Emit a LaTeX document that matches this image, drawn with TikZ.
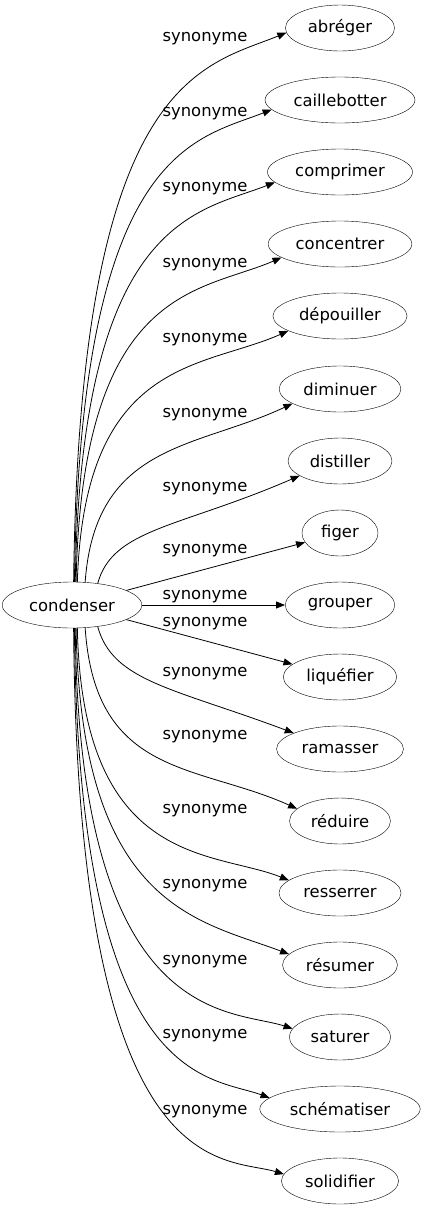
\documentclass[tikz,border=0pt]{standalone}
\usepackage{fontspec}
\setmainfont{DejaVu Sans}
\usetikzlibrary{shapes.geometric, arrows.meta}

\begin{document}
\begin{tikzpicture}[x=1pt, y=-1pt, >={Triangle[length=9pt,width=7pt]},
    word/.style={draw, ellipse, inner xsep=6.5pt, inner ysep=3pt,
      minimum height=46pt, minimum width=76pt, font=\fontsize{16.4}{19}\selectfont},
    rel/.style={anchor=base, font=\fontsize{16.4}{19}\selectfont},
    link/.style={->, line width=0.8pt}]
  \useasboundingbox (0,0) rectangle (422,1211);

  % Draw the source word
  \node[word] (condenser) at (72,605) {condenser};

  % Draw the synonyms
  \foreach \n/\txt/\y in {abreger/abréger/28, caillebotter/caillebotter/100,
      comprimer/comprimer/172, concentrer/concentrer/244, depouiller/dépouiller/316,
      diminuer/diminuer/389, distiller/distiller/461, figer/figer/533,
      grouper/grouper/605, liquefier/liquéfier/677, ramasser/ramasser/749,
      reduire/réduire/821, resserrer/resserrer/893, resumer/résumer/965,
      saturer/saturer/1037, schematiser/schématiser/1109, solidifier/solidifier/1181}
    \node[word] (\n) at (340,\y) {\txt};

  % Draw the curved links
  \foreach \n/\sa/\ax/\ay/\bx/\by/\ea in {abreger/86/6/-505/-84/34/185,
      caillebotter/84/6/-434/-76/30/188, comprimer/82/6/-366/-76/30/189.5,
      concentrer/80/6/-298/-80/35/193, depouiller/77/7/-225/-85/38/196,
      diminuer/60/10/-140/-95/45/197, distiller/40/15/-55/-120/52/200,
      ramasser/-40/15/55/-120/-45/161, reduire/-60/10/150/-100/-45/164,
      resserrer/-77/5/240/-75/-30/166, resumer/-80/5/280/-90/-34/168,
      saturer/-82/4/400/-62/-20/170, schematiser/-84/4/460/-60/-22/171.5,
      solidifier/-86/4/560/-60/-18/173}
    \draw[link] (condenser.\sa) .. controls +(\ax,\ay) and +(\bx,\by) .. (\n.\ea);

  % Draw the straight links
  \draw[link] (condenser) -- (figer);
  \draw[link] (condenser) -- (grouper);
  \draw[link] (condenser) -- (liquefier);

  % Draw the labels
  \foreach \i/\b in {1/41, 2/116, 3/191, 4/267, 5/342, 6/417, 7/491, 8/553, 9/599,
      10/626, 11/676, 12/739, 13/813, 14/888, 15/964, 16/1038, 17/1114}
    \node[rel] (l\i) at (205,\b) {synonyme};
\end{tikzpicture}
\end{document}
